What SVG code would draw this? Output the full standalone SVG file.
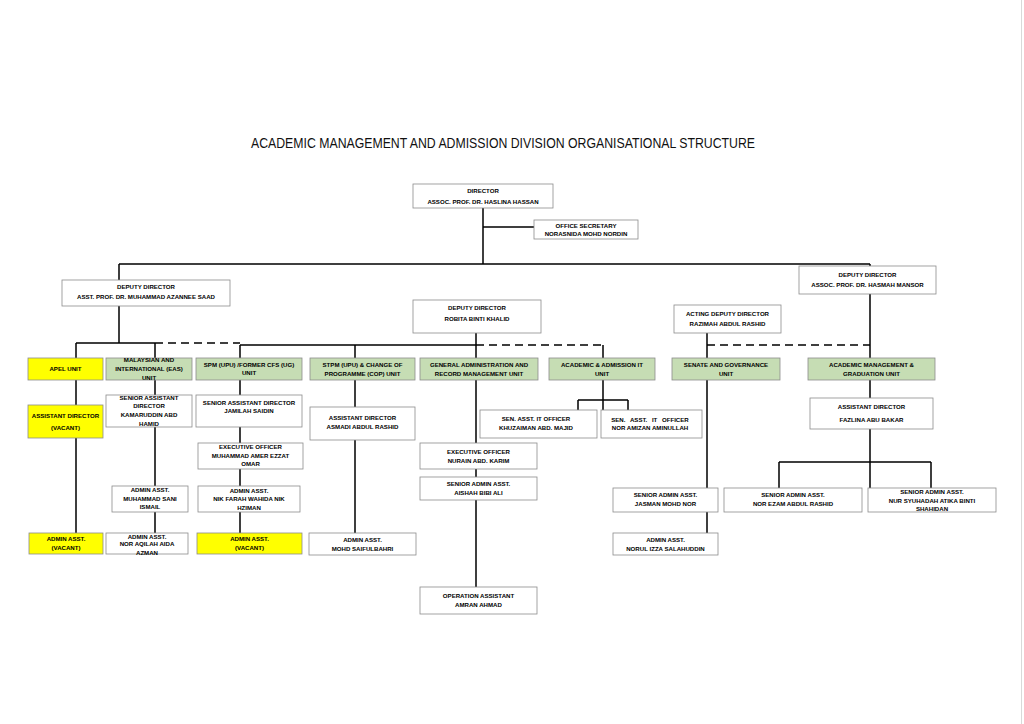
<svg xmlns="http://www.w3.org/2000/svg" width="1024" height="724" viewBox="0 0 1024 724">
<style>
.bx{fill:#ffffff;stroke:#8c8c8c;stroke-width:0.8}
.gr{fill:#c6ddb4;stroke:#8c8c8c;stroke-width:0.8}
.yl{fill:#ffff00;stroke:#8c8c8c;stroke-width:0.8}
.t{font-family:"Liberation Sans",Arial,sans-serif;font-weight:bold;font-size:6.1px;fill:#000;text-anchor:middle}
.ln{stroke:#000;stroke-width:1.5;fill:none}
.dl{stroke:#000;stroke-width:1.5;fill:none;stroke-dasharray:8 5}
.title{font-family:"Liberation Sans",Arial,sans-serif;font-size:14px;fill:#111;text-anchor:middle}
</style>
<rect x="0" y="0" width="1024" height="724" fill="#ffffff"/>
<line x1="1021.5" y1="0" x2="1021.5" y2="724" stroke="#d9d9d9" stroke-width="1"/>
<text class="title" x="503" y="148" textLength="504" lengthAdjust="spacingAndGlyphs">ACADEMIC MANAGEMENT AND ADMISSION DIVISION ORGANISATIONAL STRUCTURE</text>

<g id="connectors">
<path class="ln" d="M483 207V264M483 227H534M119 264H870M119 264V280M870 264V266"/>
<path class="ln" d="M119 306V343M76 343H155M76 343V533M155 343V533"/>
<path class="dl" d="M155 343H240"/>
<path class="ln" d="M240 345H476M240 345V533M355 345V533M476 333V587"/>
<path class="dl" d="M476 345H603"/>
<path class="ln" d="M603 345V410M578 400H628M578 400V410M628 400V410"/>
<path class="dl" d="M707 345H870"/>
<path class="ln" d="M707 333V533M870 294V488M779 462H931M779 462V488M931 462V488"/>
</g>

<g id="director"><rect class="bx" x="413" y="184" width="140" height="24"/>
<text class="t" x="483" y="193">DIRECTOR</text><text class="t" x="483" y="203.5">ASSOC. PROF. DR. HASLINA HASSAN</text></g>
<g id="secretary"><rect class="bx" x="534" y="220" width="104" height="19"/>
<text class="t" x="586" y="228">OFFICE SECRETARY</text><text class="t" x="586" y="236">NORASNIDA MOHD NORDIN</text></g>

<g id="deputy-azannee"><rect class="bx" x="62" y="280" width="168" height="26"/>
<text class="t" x="146" y="288.5">DEPUTY DIRECTOR</text><text class="t" x="146" y="299">ASST. PROF. DR. MUHAMMAD AZANNEE SAAD</text></g>
<g id="deputy-robita"><rect class="bx" x="413" y="300" width="128" height="33"/>
<text class="t" x="477" y="310">DEPUTY DIRECTOR</text><text class="t" x="477" y="320.5">ROBITA BINTI KHALID</text></g>
<g id="deputy-razimah"><rect class="bx" x="674" y="305" width="107" height="28"/>
<text class="t" x="727.5" y="315.5">ACTING DEPUTY DIRECTOR</text><text class="t" x="727.5" y="325.5">RAZIMAH ABDUL RASHID</text></g>
<g id="deputy-hasmah"><rect class="bx" x="799" y="266" width="137" height="28"/>
<text class="t" x="867.5" y="276.5">DEPUTY DIRECTOR</text><text class="t" x="867.5" y="286.5">ASSOC. PROF. DR. HASMAH MANSOR</text></g>

<g id="unit-apel"><rect class="yl" x="28" y="358" width="75" height="22"/>
<text class="t" x="65.5" y="371">APEL UNIT</text></g>
<g id="unit-eas"><rect class="gr" x="106" y="358" width="86" height="22"/>
<text class="t" x="149" y="361.5">MALAYSIAN AND</text><text class="t" x="149" y="370.5">INTERNATIONAL (EAS)</text><text class="t" x="149" y="379.5">UNIT</text></g>
<g id="unit-spm"><rect class="gr" x="196" y="358" width="106" height="22"/>
<text class="t" x="249" y="366.5">SPM (UPU) /FORMER CFS (UG)</text><text class="t" x="249" y="375">UNIT</text></g>
<g id="unit-stpm"><rect class="gr" x="310" y="358" width="105" height="22"/>
<text class="t" x="362.5" y="366.5">STPM (UPU) &amp; CHANGE OF</text><text class="t" x="362.5" y="375.5">PROGRAMME (COP) UNIT</text></g>
<g id="unit-general"><rect class="gr" x="420" y="358" width="118" height="22"/>
<text class="t" x="479" y="366.5">GENERAL ADMINISTRATION AND</text><text class="t" x="479" y="375.5">RECORD MANAGEMENT UNIT</text></g>
<g id="unit-ait"><rect class="gr" x="549" y="358" width="106" height="22"/>
<text class="t" x="602" y="366.5">ACADEMIC &amp; ADMISSION IT</text><text class="t" x="602" y="375.5">UNIT</text></g>
<g id="unit-senate"><rect class="gr" x="672" y="358" width="108" height="22"/>
<text class="t" x="726" y="366.5">SENATE AND GOVERNANCE</text><text class="t" x="726" y="375.5">UNIT</text></g>
<g id="unit-amg"><rect class="gr" x="808" y="358" width="127" height="22"/>
<text class="t" x="871.5" y="366.5">ACADEMIC MANAGEMENT &amp;</text><text class="t" x="871.5" y="375.5">GRADUATION UNIT</text></g>

<g id="apel-ad"><rect class="yl" x="28" y="405" width="75" height="33"/>
<text class="t" x="65.5" y="418">ASSISTANT DIRECTOR</text><text class="t" x="65.5" y="429.5">(VACANT)</text></g>
<g id="eas-sad"><rect class="bx" x="106" y="395" width="86" height="32"/>
<text class="t" x="149" y="399.5">SENIOR ASSISTANT</text><text class="t" x="149" y="408">DIRECTOR</text><text class="t" x="149" y="417">KAMARUDDIN ABD</text><text class="t" x="149" y="426">HAMID</text></g>
<g id="spm-sad"><rect class="bx" x="196" y="395" width="106" height="32"/>
<text class="t" x="249" y="404.5">SENIOR ASSISTANT DIRECTOR</text><text class="t" x="249" y="413">JAMILAH SAIDIN</text></g>
<g id="stpm-ad"><rect class="bx" x="310" y="407" width="105" height="33"/>
<text class="t" x="362.5" y="420">ASSISTANT DIRECTOR</text><text class="t" x="362.5" y="429">ASMADI ABDUL RASHID</text></g>
<g id="ait-khuzaiman"><rect class="bx" x="480" y="410" width="117" height="28"/>
<text class="t" x="536" y="420.5">SEN. ASST. IT OFFICER</text><text class="t" x="536" y="430">KHUZAIMAN ABD. MAJID</text></g>
<g id="ait-amizan"><rect class="bx" x="601" y="410" width="101" height="28"/>
<text class="t" x="650" y="421.5" style="word-spacing:3px">SEN. ASST. IT OFFICER</text><text class="t" x="650" y="429.5">NOR AMIZAN AMINULLAH</text></g>
<g id="amg-ad"><rect class="bx" x="810" y="398" width="123" height="31"/>
<text class="t" x="871.5" y="408.5">ASSISTANT DIRECTOR</text><text class="t" x="871.5" y="422">FAZLINA ABU BAKAR</text></g>

<g id="spm-eo"><rect class="bx" x="198" y="443" width="105" height="26"/>
<text class="t" x="250.5" y="449">EXECUTIVE OFFICER</text><text class="t" x="250.5" y="457.5">MUHAMMAD AMER EZZAT</text><text class="t" x="250.5" y="466">OMAR</text></g>
<g id="gen-eo"><rect class="bx" x="420" y="443" width="117" height="26"/>
<text class="t" x="478.5" y="453.5">EXECUTIVE OFFICER</text><text class="t" x="478.5" y="462.5">NURAIN ABD. KARIM</text></g>
<g id="gen-saa"><rect class="bx" x="420" y="477" width="117" height="23"/>
<text class="t" x="478.5" y="486">SENIOR ADMIN ASST.</text><text class="t" x="478.5" y="494.5">AISHAH BIBI ALI</text></g>

<g id="eas-aa1"><rect class="bx" x="112" y="486" width="76" height="26"/>
<text class="t" x="150" y="492">ADMIN ASST.</text><text class="t" x="150" y="500.5">MUHAMMAD SANI</text><text class="t" x="150" y="509">ISMAIL</text></g>
<g id="spm-aa1"><rect class="bx" x="198" y="486" width="102" height="26"/>
<text class="t" x="249" y="492.5">ADMIN ASST.</text><text class="t" x="249" y="501">NIK FARAH WAHIDA NIK</text><text class="t" x="249" y="509.5">HZIMAN</text></g>
<g id="sen-saa"><rect class="bx" x="613" y="488" width="105" height="24"/>
<text class="t" x="665.5" y="497">SENIOR ADMIN ASST.</text><text class="t" x="665.5" y="506">JASMAN MOHD NOR</text></g>
<g id="amg-saa1"><rect class="bx" x="724" y="488" width="138" height="24"/>
<text class="t" x="793" y="497">SENIOR ADMIN ASST.</text><text class="t" x="793" y="506">NOR EZAM ABDUL RASHID</text></g>
<g id="amg-saa2"><rect class="bx" x="868" y="488" width="128" height="24"/>
<text class="t" x="932" y="493.5">SENIOR ADMIN ASST.</text><text class="t" x="932" y="502.5">NUR SYUHADAH ATIKA BINTI</text><text class="t" x="932" y="511">SHAHIDAN</text></g>

<g id="apel-aa"><rect class="yl" x="29" y="533" width="74" height="21"/>
<text class="t" x="66" y="541">ADMIN ASST.</text><text class="t" x="66" y="549.5">(VACANT)</text></g>
<g id="eas-aa2"><rect class="bx" x="106" y="533" width="82" height="21"/>
<text class="t" x="147" y="538.5">ADMIN ASST.</text><text class="t" x="147" y="546">NOR AQILAH AIDA</text><text class="t" x="147" y="554.5">AZMAN</text></g>
<g id="spm-aa2"><rect class="yl" x="197" y="533" width="105" height="21"/>
<text class="t" x="249.5" y="541">ADMIN ASST.</text><text class="t" x="249.5" y="549.5">(VACANT)</text></g>
<g id="stpm-aa"><rect class="bx" x="309" y="533" width="107" height="22"/>
<text class="t" x="362.5" y="542">ADMIN ASST.</text><text class="t" x="362.5" y="550.5">MOHD SAIFULBAHRI</text></g>
<g id="sen-aa"><rect class="bx" x="613" y="533" width="105" height="22"/>
<text class="t" x="665.5" y="542">ADMIN ASST.</text><text class="t" x="665.5" y="550.5">NORUL IZZA SALAHUDDIN</text></g>
<g id="gen-oa"><rect class="bx" x="420" y="587" width="117" height="27"/>
<text class="t" x="478.5" y="598">OPERATION ASSISTANT</text><text class="t" x="478.5" y="607">AMRAN AHMAD</text></g>
</svg>
